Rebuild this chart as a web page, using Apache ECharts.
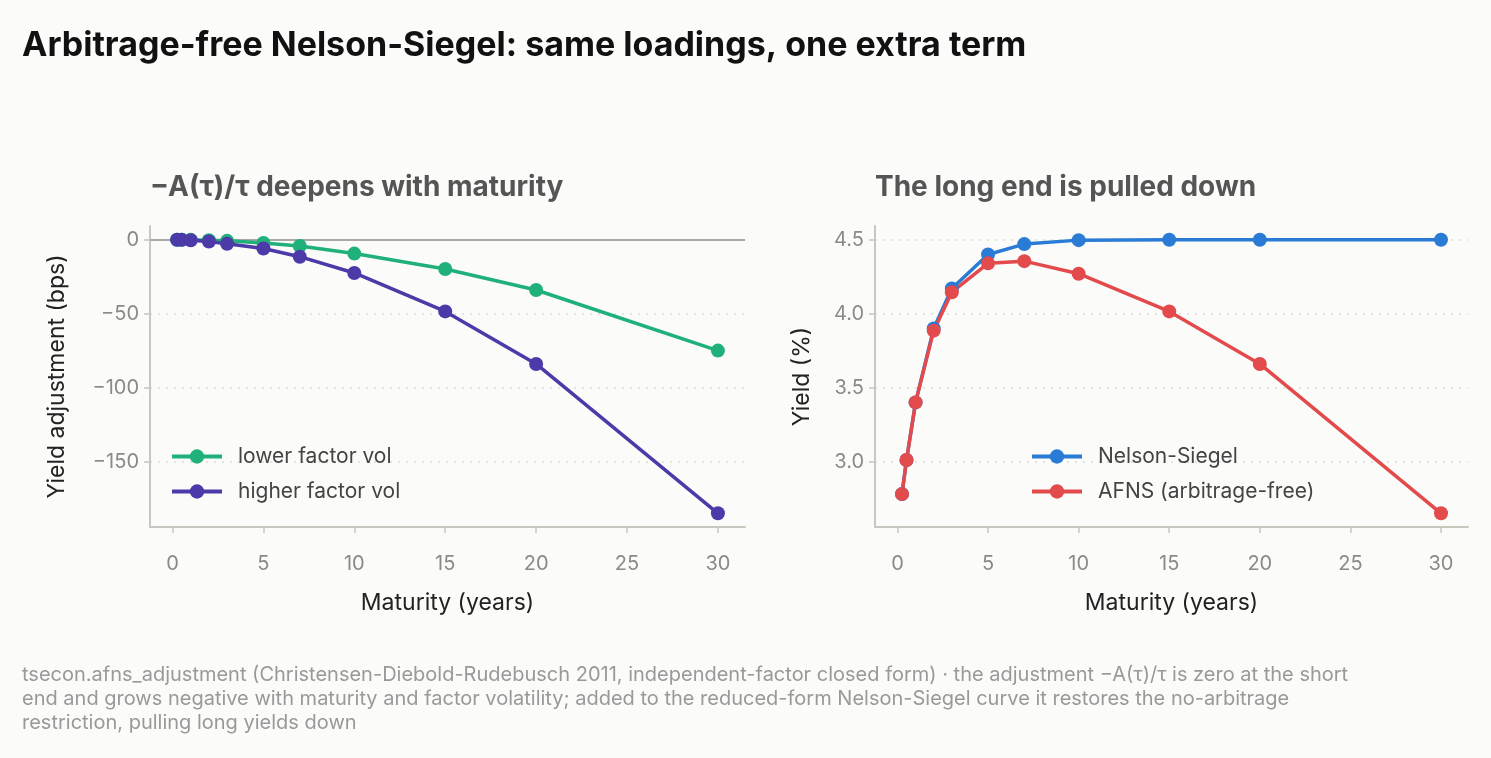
<!DOCTYPE html>
<html>
<head>
<meta charset="utf-8">
<script src="https://cdn.jsdelivr.net/npm/echarts@6/dist/echarts.min.js"></script>
<style>
  html, body { margin: 0; padding: 0; background: #fbfbf9; }
  #chart { width: 1491px; height: 758px; }
</style>
</head>
<body>
<div id="chart"></div>
<script>
// maturities in years
const maturities = [0.25, 0.5, 1, 2, 3, 5, 7, 10, 15, 20, 30]
// -A(tau)/tau adjustment in bps
const lowerVol = [0, -0.03, -0.1, -0.4, -0.8, -2.2, -4.3, -9.4, -19.8, -34, -75]
const higherVol = [-0.05, -0.1, -0.4, -1.2, -2.7, -6, -11.5, -22.5, -48.5, -84, -185]
// yields in %
const nelsonSiegel = [2.78, 3.01, 3.40, 3.90, 4.17, 4.40, 4.47, 4.497, 4.50, 4.50, 4.50]
const afns = [2.78, 3.01, 3.40, 3.885, 4.145, 4.34, 4.355, 4.27, 4.015, 3.66, 2.65]

const xTicks = [0, 5, 10, 15, 20, 25, 30]
const leftTicks = [-150, -100, -50, 0]
const rightTicks = [3.0, 3.5, 4.0, 4.5]

const pairs = (xs, ys) => xs.map((x, i) => [x, ys[i]])

const FONT = 'Inter, "Liberation Sans", Arial, sans-serif'
const spine = '#c8c8be'
const tickGray = '#8a8a8a'

const xAxisBase = (gridIndex) => ({
  type: 'value',
  gridIndex,
  min: -1.24,
  max: 31.49,
  name: 'Maturity (years)',
  nameLocation: 'middle',
  nameGap: 65,
  nameTextStyle: { fontSize: 23, color: '#222', fontFamily: FONT },
  axisLine: { show: true, onZero: false, lineStyle: { color: spine, width: 2 } },
  axisTick: { show: true, length: 6, lineStyle: { color: spine, width: 1.5 }, customValues: xTicks },
  axisLabel: { color: tickGray, fontSize: 20, margin: 27, fontFamily: FONT, customValues: xTicks },
  splitLine: { show: false }
})

const yAxisBase = (gridIndex, min, max, ticks, name, gap, fmt) => ({
  type: 'value',
  gridIndex,
  min, max,
  name,
  nameLocation: 'middle',
  nameGap: gap,
  nameTextStyle: { fontSize: 23, color: '#222', fontFamily: FONT },
  axisLine: { show: true, onZero: false, lineStyle: { color: spine, width: 2 } },
  axisTick: { show: true, length: 6, lineStyle: { color: spine, width: 1.5 }, customValues: ticks },
  axisLabel: { color: tickGray, fontSize: 20, margin: 11, fontFamily: FONT, customValues: ticks, formatter: fmt },
  splitLine: { show: true, lineStyle: { color: '#dcdcd6', type: [2, 6], width: 1.5 } }
})

const lineSeries = (name, data, color, xi, yi, extra) => Object.assign({
  name,
  type: 'line',
  xAxisIndex: xi,
  yAxisIndex: yi,
  data,
  color,
  symbol: 'circle',
  symbolSize: 14,
  lineStyle: { width: 3.5, color },
  itemStyle: { color },
  z: 3
}, extra || {})

const legendBase = (names, left) => ({
  data: names,
  orient: 'vertical',
  left, top: 441,
  itemWidth: 50, itemHeight: 18, itemGap: 14,
  lineStyle: { width: 4 },
  textStyle: { fontSize: 21, color: '#444', fontFamily: FONT, padding: [0, 0, 0, 11] }
})

const chart = echarts.init(document.getElementById('chart'))
chart.setOption({
  backgroundColor: '#fbfbf9',
  animation: false,
  textStyle: { fontFamily: FONT },
  title: [
    {
      text: 'Arbitrage-free Nelson-Siegel: same loadings, one extra term',
      left: 22, top: 29, padding: 0,
      textStyle: { fontSize: 34, fontWeight: 'bold', color: '#111', fontFamily: FONT }
    },
    {
      text: '\u2212A(\u03c4)/\u03c4 deepens with maturity',
      left: 150, top: 174, padding: 0,
      textStyle: { fontSize: 28, fontWeight: 'bold', color: '#555', fontFamily: FONT }
    },
    {
      text: 'The long end is pulled down',
      left: 875, top: 174, padding: 0,
      textStyle: { fontSize: 28, fontWeight: 'bold', color: '#555', fontFamily: FONT }
    },
    {
      text: 'tsecon.afns_adjustment (Christensen-Diebold-Rudebusch 2011, independent-factor closed form) \u00b7 the adjustment \u2212A(\u03c4)/\u03c4 is zero at the short\nend and grows negative with maturity and factor volatility; added to the reduced-form Nelson-Siegel curve it restores the no-arbitrage\nrestriction, pulling long yields down',
      left: 22, top: 663, padding: 0,
      textStyle: { fontSize: 20, fontWeight: 'normal', color: '#999', lineHeight: 24, fontFamily: FONT }
    }
  ],
  legend: [
    legendBase(['lower factor vol', 'higher factor vol'], 165),
    legendBase(['Nelson-Siegel', 'AFNS (arbitrage-free)'], 1025)
  ],
  grid: [
    { left: 150, top: 226, width: 595, height: 301 },
    { left: 875, top: 226, width: 593, height: 301 }
  ],
  xAxis: [xAxisBase(0), xAxisBase(1)],
  yAxis: [
    yAxisBase(0, -194.25, 9.25, leftTicks, 'Yield adjustment (bps)', 81,
      v => (v < 0 ? '\u2212' + Math.abs(v) : String(v))),
    yAxisBase(1, 2.5575, 4.5925, rightTicks, 'Yield (%)', 61, v => v.toFixed(1))
  ],
  series: [
    lineSeries('lower factor vol', pairs(maturities, lowerVol), '#20b07a', 0, 0, {
      markLine: {
        silent: true,
        symbol: 'none',
        label: { show: false },
        lineStyle: { color: '#a8a8a4', type: 'solid', width: 2 },
        data: [{ yAxis: 0 }],
        z: 1
      }
    }),
    lineSeries('higher factor vol', pairs(maturities, higherVol), '#4b3aa8', 0, 0),
    lineSeries('Nelson-Siegel', pairs(maturities, nelsonSiegel), '#2a7bd5', 1, 1),
    lineSeries('AFNS (arbitrage-free)', pairs(maturities, afns), '#e24a4c', 1, 1)
  ]
})
</script>
</body>
</html>
